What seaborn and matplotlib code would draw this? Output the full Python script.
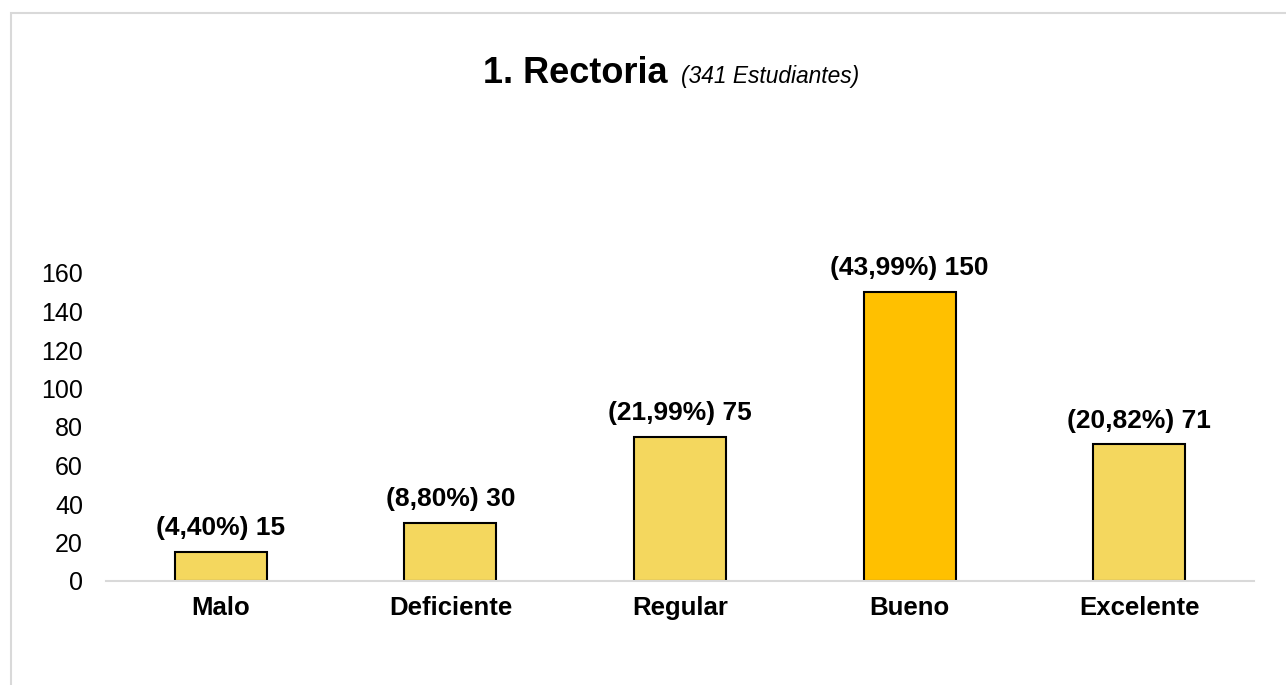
import matplotlib
matplotlib.use("Agg")
import matplotlib.pyplot as plt
import seaborn as sns
import pandas as pd
from matplotlib.patches import Rectangle

categories = ["Malo", "Deficiente", "Regular", "Bueno", "Excelente"]
counts = [15, 30, 75, 150, 71]
percent_labels = ["4,40%", "8,80%", "21,99%", "43,99%", "20,82%"]
yticks = [0, 20, 40, 60, 80, 100, 120, 140, 160]
colors = ["#F4D75E", "#F4D75E", "#F4D75E", "#FFC000", "#F4D75E"]

sns.set_theme(style="white")
plt.rcParams["font.family"] = ["Liberation Sans", "DejaVu Sans"]

W, H = 1286, 685
fig = plt.figure(figsize=(W / 100, H / 100), dpi=100)
ax = fig.add_axes([106 / W, 1 - 581 / H, (1254 - 106) / W, (581 - 273) / H])

df = pd.DataFrame({"cat": categories, "n": counts})
sns.barplot(data=df, x="cat", y="n", hue="cat", palette=colors, legend=False,
            width=0.4, edgecolor="black", linewidth=1.5, ax=ax, saturation=1)

ax.set_ylim(0, 160)
ax.set_yticks(yticks)
ax.set_xlim(-0.5, len(categories) - 0.5)
ax.set_xlabel("")
ax.set_ylabel("")
for s in ["top", "right", "left"]:
    ax.spines[s].set_visible(False)
ax.spines["bottom"].set_color("#D9D9D9")
ax.spines["bottom"].set_linewidth(1.5)
ax.tick_params(axis="y", labelsize=18, length=0, pad=16.5, colors="black")
ax.tick_params(axis="x", labelsize=18.5, length=0, pad=11, colors="black")
for t in ax.get_xticklabels():
    t.set_fontweight("bold")

for i, (c, p) in enumerate(zip(counts, percent_labels)):
    ax.annotate(f"({p}) {c}", (i, c), xytext=(0, 8.5), textcoords="offset points",
                ha="center", va="bottom", fontsize=19, fontweight="bold", color="black")

# chart border (top & left visible)
fig.patches.append(Rectangle((10.5 / W, -0.1), 1.2, 1 - 12.5 / H + 0.1,
                             transform=fig.transFigure, fill=False,
                             edgecolor="#D9D9D9", linewidth=1.5))

# title in two parts
fig.text(483 / W, 1 - 83 / H, "1. Rectoria", fontsize=26, fontweight="bold",
         ha="left", va="baseline", color="black")
fig.text(681 / W, 1 - 83 / H, "(341 Estudiantes)", fontsize=16.4, fontstyle="italic",
         ha="left", va="baseline", color="black")

fig.savefig("out.png", dpi=100)
